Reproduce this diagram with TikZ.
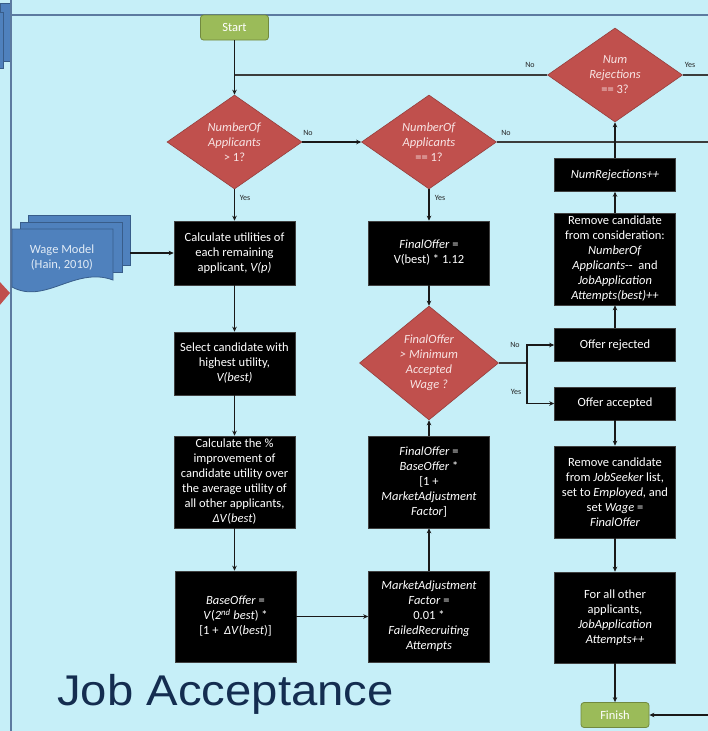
\documentclass[tikz,border=0pt]{standalone}
\usepackage{fontspec}
\setmainfont{Carlito}
\newfontfamily\titlefont{Liberation Sans}
\usetikzlibrary{shapes.geometric,arrows.meta}

\definecolor{bgcyan}{RGB}{198,239,248}
\definecolor{lane}{RGB}{92,122,160}
\definecolor{dred}{RGB}{192,80,77}
\definecolor{dredline}{RGB}{150,62,60}
\definecolor{dtext}{RGB}{248,228,228}
\definecolor{docblue}{RGB}{79,129,189}
\definecolor{docline}{RGB}{56,93,138}
\definecolor{doctext}{RGB}{225,235,246}
\definecolor{tgreen}{RGB}{155,187,89}
\definecolor{tgreenline}{RGB}{113,137,63}
\definecolor{titlenavy}{RGB}{20,45,80}
\definecolor{flowline}{RGB}{25,25,25}

\begin{document}
\begin{tikzpicture}[x=1pt,y=-1pt,
  font=\fontsize{12.5}{15}\selectfont,
  proc/.style={fill=black, draw=black!75, line width=0.6pt, text=white,
    align=center, minimum width=121pt, inner sep=0pt},
  decision/.style={diamond, fill=dred, draw=dredline, line width=0.6pt,
    text=dtext, align=center, inner sep=0pt, minimum width=135pt,
    minimum height=94pt},
  terminal/.style={rounded corners=3pt, fill=tgreen, draw=tgreenline,
    line width=0.8pt, text=white, minimum width=68pt, minimum height=25pt,
    inner sep=0pt},
  flow/.style={draw=flowline, line width=1.3pt,
    -{Stealth[length=5pt,width=4.5pt]}},
  plain/.style={draw=flowline!85, line width=1.3pt},
  lbl/.style={font=\fontsize{8}{9}\selectfont, text=black!85, inner sep=0pt},
  lanerule/.style={draw=lane, line width=2pt},
  doc/.style={fill=docblue, draw=docline, line width=0.8pt},
]

% page background
\fill[bgcyan] (0,0) rectangle (708,731);
\useasboundingbox (0,0) rectangle (708,731);

% shapes of the neighbouring lane
\path[doc] (0,3) rectangle (10,61);
\path[doc] (-1,12) rectangle (3.5,68);
\fill[dred] (-1,281) -- (10,293) -- (-1,306) -- cycle;

% lane borders
\draw[lanerule] (10.5,0) -- (10.5,731);
\draw[lanerule] (10.5,14.5) -- (708,14.5);

% wage model document stack
\path[doc] (28,215) rectangle (130,265);
\path[doc] (20,222) rectangle (122,272);
\path[doc] (12,229) -- (113,229) -- (113,280)
  .. controls (75,266) and (45,305) .. (12,287) -- cycle;
\node[text=doctext, align=center] (wage) at (62,258) {Wage Model\\(Hain, 2010)};
\coordinate (docR) at (130,253);

% terminals
\node[terminal] (start) at (234.5,27.5) {Start};
\node[terminal] (finish) at (615,715) {Finish};

% decisions
\node[decision] (d1) at (234.5,142) {\textit{NumberOf}\\\textit{Applicants}\\> 1?};
\node[decision] (d2) at (429,142) {\textit{NumberOf}\\\textit{Applicants}\\== 1?};
\node[decision] (d3) at (615,75) {\textit{Num}\\\textit{Rejections}\\== 3?};
\node[decision, minimum width=139pt] (d4) at (429,363)
  {\textit{FinalOffer}\\\textit{> Minimum}\\\textit{Accepted}\\\textit{Wage ?}};

% first column
\node[proc, minimum height=64pt] (calc) at (234.5,253)
  {Calculate utilities of\\each remaining\\applicant, \textit{V(p)}};
\node[proc, minimum height=63pt] (select) at (234.5,363.5)
  {Select candidate with\\highest utility,\\\textit{V(best)}};
\node[proc, minimum height=92pt] (pct) at (234.5,482)
  {Calculate the \%\\improvement of\\candidate utility over\\the average utility of\\all other applicants,\\\textit{ΔV}(\textit{best})};
\node[proc, minimum height=91pt] (base) at (235.5,616.5)
  {\textit{BaseOffer} =\\\textit{V}(\textit{2\textsuperscript{nd} best}) *\\{[}1 +~ \textit{ΔV}(\textit{best})]};

% second column
\node[proc, minimum height=64pt] (fo1) at (429,253)
  {\textit{FinalOffer} =\\V(best) * 1.12};
\node[proc, minimum height=92pt] (fo2) at (429,482)
  {\textit{FinalOffer} =\\\textit{BaseOffer} *\\{[}1 +\\\textit{MarketAdjustment}\\\textit{Factor}]};
\node[proc, minimum height=91pt] (market) at (429,616.5)
  {\textit{MarketAdjustment}\\\textit{Factor} =\\0.01 *\\\textit{FailedRecruiting}\\\textit{Attempts}};

% third column
\node[proc, minimum height=33pt] (numrej) at (615,175) {\textit{NumRejections++}};
\node[proc, minimum height=92pt] (remove) at (615,259)
  {Remove candidate\\from consideration:\\\textit{NumberOf}\\\textit{Applicants}-{}-~ and\\\textit{JobApplication}\\\textit{Attempts(best)++}};
\node[proc, minimum height=33pt] (rejected) at (615,345) {Offer rejected};
\node[proc, minimum height=33pt] (accepted) at (615,403.5) {Offer accepted};
\node[proc, minimum height=92pt] (removejs) at (615,492)
  {Remove candidate\\from \textit{JobSeeker} list,\\set to \textit{Employed}, and\\set \textit{Wage} =\\\textit{FinalOffer}};
\node[proc, minimum height=91pt] (forall) at (615,617.5)
  {For all other\\applicants,\\\textit{JobApplication}\\\textit{Attempts++}};

% free ends and junctions
\coordinate (loopin) at (234.5,75);
\coordinate (d2out) at (708,142);
\coordinate (d3out) at (708,75);
\coordinate (finin) at (708,715);
\coordinate (split) at (527,363);

% connectors
\draw[flow] (start) -- (d1);
\draw[plain] (d3.west) -- (loopin);
\draw[plain] (d3.east) -- (d3out);
\draw[flow] (d1.east) -- (d2.west);
\draw[plain] (d2.east) -- (d2out);
\draw[flow] (d1.south) -- (calc.north);
\draw[flow] (docR) -- (calc.west);
\draw[flow] (calc) -- (select);
\draw[flow] (select) -- (pct);
\draw[flow] (pct.south) -- (pct.south |- base.north);
\draw[flow] (base.east) -- (market.west);
\draw[flow] (market) -- (fo2);
\draw[flow] (fo2) -- (d4);
\draw[flow] (d2.south) -- (fo1.north);
\draw[flow] (fo1) -- (d4);
\draw[plain] (d4.east) -- (split);
\draw[flow] (split) |- (rejected.west);
\draw[flow] (split) |- (accepted.west);
\draw[flow] (rejected) -- (remove);
\draw[flow] (remove) -- (numrej);
\draw[flow] (numrej.north) -- (d3.south);
\draw[flow] (accepted) -- (removejs);
\draw[flow] (removejs) -- (forall);
\draw[flow] (forall) -- (finish);
\draw[flow] (finin) -- (finish.east);

% branch labels
\node[lbl] (n1) at (308,133) {No};
\node[lbl] (y1) at (245,198) {Yes};
\node[lbl] (n2) at (506,133) {No};
\node[lbl] (y2) at (440,198) {Yes};
\node[lbl] (n3) at (530,65) {No};
\node[lbl] (y3) at (690,65) {Yes};
\node[lbl] (n4) at (515,345) {No};
\node[lbl] (y4) at (516,392) {Yes};

% lane title
\node[anchor=base west, inner sep=0pt, text=titlenavy, xscale=1.1,
  font=\titlefont\fontsize{43}{50}\selectfont] (title) at (57,705) {Job Acceptance};
\end{tikzpicture}
\end{document}
